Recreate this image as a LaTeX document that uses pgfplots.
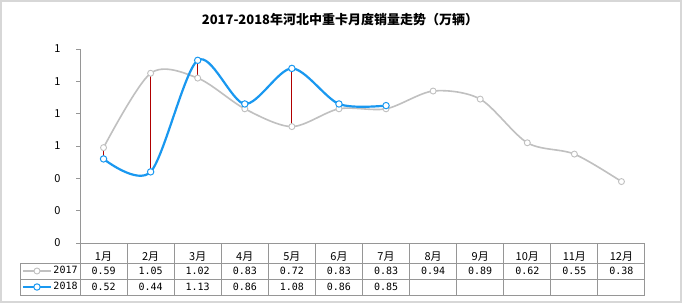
\documentclass[border=0pt]{standalone}
\usepackage{pgfplots}
\pgfplotsset{compat=1.18}
\usepackage{pgfplotstable}
\usepackage{fontspec}
\setmainfont{Noto Sans CJK SC}
\newfontfamily\numfont{DejaVu Sans Mono}
\definecolor{serA}{RGB}{192,192,192}
\definecolor{serB}{RGB}{25,152,240}
\definecolor{dropc}{RGB}{176,0,0}
\definecolor{gridc}{RGB}{150,150,150}
\definecolor{framec}{RGB}{215,215,215}

\pgfplotstableread{
x v
0 0.59
1 1.05
2 1.02
3 0.83
4 0.72
5 0.83
6 0.83
7 0.94
8 0.89
9 0.62
10 0.55
11 0.38
}\dataA
\pgfplotstableread{
x v
0 0.52
1 0.44
2 1.13
3 0.86
4 1.08
5 0.86
6 0.85
}\dataB

\begin{document}
\begin{tikzpicture}[x=1pt,y=1pt]
\useasboundingbox (0,0) rectangle (682,303);
\fill[white] (0,0) rectangle (682,303);
\draw[framec, line width=2pt] (1,1) rectangle (681,302);
\node[font=\fontsize{13}{15}\selectfont\bfseries] at (340,283) {2017-2018年河北中重卡月度销量走势（万辆）};
\begin{axis}[
  at={(80pt,60pt)}, anchor=south west,
  scale only axis, width=565pt, height=194pt,
  xmin=-0.5, xmax=11.5, ymin=0, ymax=1.2,
  clip=false,
  axis x line=bottom, axis y line=left,
  axis line style={-, gridc, line width=0.8pt},
  tick align=outside,
  major tick length=4pt,
  ytick={0,0.2,0.4,0.6,0.8,1.0,1.2},
  yticklabels={0,0,0,1,1,1,1},
  y tick style={gridc, line width=0.8pt},
  yticklabel style={font=\fontsize{11}{12}\selectfont, xshift=-12pt},
  xtick={0,1,2,3,4,5,6,7,8,9,10,11},
  xticklabels={1月,2月,3月,4月,5月,6月,7月,8月,9月,10月,11月,12月},
  x tick style={draw=none},
  xticklabel style={font=\fontsize{11}{12}\selectfont, anchor=center, yshift=-10pt},
  legend image code/.code={\draw[mark repeat=2,mark phase=2,#1] plot coordinates {(0pt,0pt) (14pt,0pt) (28pt,0pt)};},
  legend style={at={(axis description cs:-0.1062,-0.1031)}, anchor=north west, xshift=2pt,
    draw=none, fill=none, inner sep=0pt, outer sep=0pt, row sep=0pt,
    font=\numfont\fontsize{10}{11}\selectfont,
    nodes={inner sep=1.5pt, minimum height=16pt, anchor=west}},
  legend cell align=left,
]
\addlegendimage{serA, line width=1.6pt, mark=*, mark size=3pt, mark options={fill=white, draw=serA, line width=0.9pt}}
\addlegendentry{2017}
\addlegendimage{serB, line width=2pt, mark=*, mark size=3.2pt, mark options={fill=white, draw=serB, line width=1pt}}
\addlegendentry{2018}

\addplot[serA, line width=1.6pt, smooth, mark=none] table[x=x, y=v] {\dataA};
\addplot[serB, line width=2.2pt, smooth, mark=none] table[x=x, y=v] {\dataB};

\addplot[dropc, line width=1pt] coordinates {(0,0.59) (0,0.52)};
\addplot[dropc, line width=1pt] coordinates {(1,1.05) (1,0.44)};
\addplot[dropc, line width=1pt] coordinates {(2,1.02) (2,1.13)};
\addplot[dropc, line width=1pt] coordinates {(3,0.83) (3,0.86)};
\addplot[dropc, line width=1pt] coordinates {(4,0.72) (4,1.08)};
\addplot[dropc, line width=1pt] coordinates {(5,0.83) (5,0.86)};
\addplot[dropc, line width=1pt] coordinates {(6,0.83) (6,0.85)};

\addplot[only marks, mark=*, mark size=3pt, mark options={fill=white, draw=serA, line width=0.9pt}] table[x=x, y=v] {\dataA};
\addplot[only marks, mark=*, mark size=3.2pt, mark options={fill=white, draw=serB, line width=1pt}] table[x=x, y=v] {\dataB};

\addplot[draw=none, mark=none, point meta=explicit,
  nodes near coords={\pgfmathprintnumber[fixed,fixed zerofill,precision=2,assume math mode=true]{\pgfplotspointmeta}},
  every node near coord/.append style={anchor=center, black, font=\numfont\fontsize{10}{11}\selectfont}]
  table[x=x, y expr=-0.1732, meta=v] {\dataA};
\addplot[draw=none, mark=none, point meta=explicit,
  nodes near coords={\pgfmathprintnumber[fixed,fixed zerofill,precision=2,assume math mode=true]{\pgfplotspointmeta}},
  every node near coord/.append style={anchor=center, black, font=\numfont\fontsize{10}{11}\selectfont}]
  table[x=x, y expr=-0.2722, meta=v] {\dataB};
\end{axis}
\begin{scope}[gridc, line width=0.8pt]
\draw (20,40) -- (645,40);
\draw (20,24) -- (645,24);
\draw (20,8) -- (645,8);
\draw (20,8) -- (20,40);
\foreach \k in {0,...,12} { \draw (80+47*\k,60) -- (80+47*\k,8); }
\end{scope}
\end{tikzpicture}
\end{document}
